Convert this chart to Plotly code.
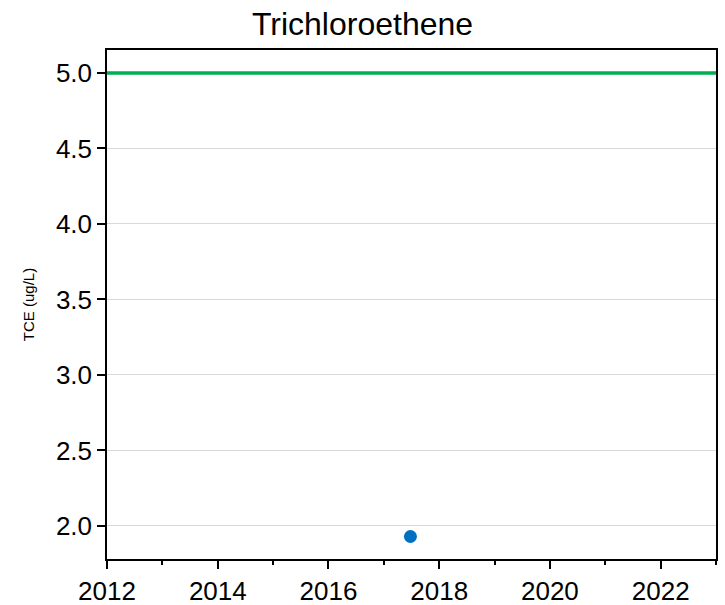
import plotly.graph_objects as go

# Sample data
sample_dates = ["2017-06-25"]
tce_values = [1.93]

# Screening level
limit_dates = ["2012-01-01", "2023-01-01"]
limit_values = [5.0, 5.0]

fig = go.Figure()

fig.add_trace(go.Scatter(
    x=limit_dates, y=limit_values, mode="lines",
    line=dict(color="#00b050", width=3.5), showlegend=False,
))
fig.add_trace(go.Scatter(
    x=sample_dates, y=tce_values, mode="markers",
    marker=dict(color="#0070c0", size=13), showlegend=False,
))

fig.update_layout(
    width=725, height=605,
    margin=dict(l=107, r=9, t=50, b=46),
    plot_bgcolor="white", paper_bgcolor="white",
    font=dict(family="Liberation Sans, Arial, sans-serif", color="black"),
    title=dict(text="Trichloroethene", x=0.5, xanchor="center", y=0.96, yanchor="middle",
               font=dict(size=32)),
)

fig.update_xaxes(
    type="date", range=["2012-01-01", "2023-01-01"],
    dtick="M24", tick0="2012-01-01", tickformat="%Y",
    ticks="outside", ticklen=8, tickwidth=1.5, tickcolor="black",
    tickfont=dict(size=26), automargin=False,
    minor=dict(dtick="M12", tick0="2013-01-01", ticks="outside", ticklen=4, tickwidth=1.5, tickcolor="black"),
    showline=True, linecolor="black", linewidth=1.5, mirror=True,
    showgrid=False,
)
fig.update_yaxes(
    range=[1.781, 5.152], dtick=0.5, tick0=2.0, tickformat=".1f",
    ticks="outside", ticklen=8, tickwidth=1.5, tickcolor="black",
    tickfont=dict(size=26), automargin=False,
    showline=True, linecolor="black", linewidth=1.5, mirror=True,
    showgrid=True, gridcolor="#d9d9d9", gridwidth=1,
    zeroline=False,
    title=dict(text="TCE (ug/L)", font=dict(size=15), standoff=18),
)

fig.write_html("out.html", config={"displayModeBar": False},
               post_script="document.body.style.margin='0';")
